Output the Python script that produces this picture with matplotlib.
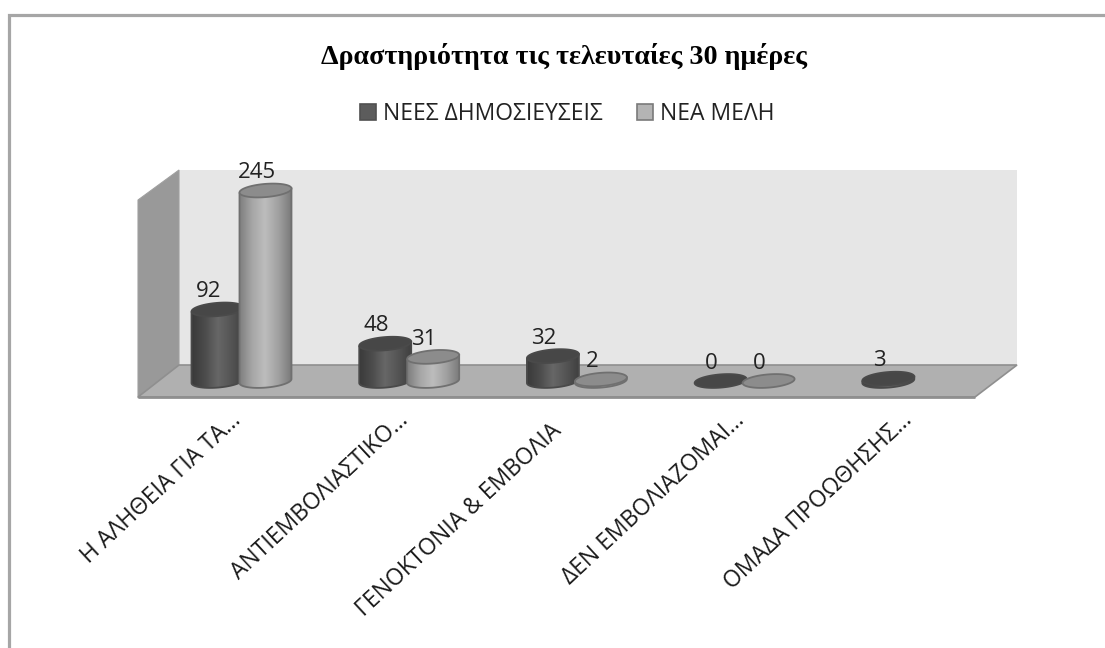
import numpy as np
import matplotlib
matplotlib.use('Agg')
import matplotlib.pyplot as plt
from matplotlib.colors import LinearSegmentedColormap
from matplotlib.patches import Patch, PathPatch, Polygon
from matplotlib.path import Path
from matplotlib.transforms import ScaledTranslation

# Data
categories = ['Η ΑΛΗΘΕΙΑ ΓΙΑ ΤΑ...', 'ΑΝΤΙΕΜΒΟΛΙΑΣΤΙΚΟ...', 'ΓΕΝΟΚΤΟΝΙΑ & ΕΜΒΟΛΙΑ',
              'ΔΕΝ ΕΜΒΟΛΙΑΖΟΜΑΙ...', 'ΟΜΑΔΑ ΠΡΟΩΘΗΣΗΣ...']
new_posts = [92, 48, 32, 0, 3]
new_members = [245, 31, 2, 0, None]
series_names = ['ΝΕΕΣ ΔΗΜΟΣΙΕΥΣΕΙΣ', 'ΝΕΑ ΜΕΛΗ']
title = 'Δραστηριότητα τις τελευταίες 30 ημέρες'

W, H = 1105, 648
UI_FONT = ['Open Sans', 'DejaVu Sans']

dark_cmap = LinearSegmentedColormap.from_list('dark', ['#3a3a3a', '#4c4c4c', '#676767', '#555555', '#404040'])
light_cmap = LinearSegmentedColormap.from_list('light', ['#7d7d7d', '#a6a6a6', '#bdbdbd', '#a2a2a2', '#7c7c7c'])

BAR_W = 0.31    # in category units
CAP_H = 17      # in value units
TILT = 2.6      # rise of the ellipse at its right end, in value units
OFFSET = 0.143  # bar centre from group centre


def rim(x, y, t):
    # slightly tilted ellipse, parametrised so the body can reuse its lower half
    return (x + BAR_W / 2 * np.cos(t),
            y + CAP_H / 2 * np.sin(t) + TILT * np.cos(t))


def draw_cylinder(ax, x, value, cmap, edge, top_color, zorder):
    if value is None:
        return
    left, right = x - BAR_W / 2, x + BAR_W / 2
    if value > 0:
        # body: straight sides plus the rounded lower edge
        arc_x, arc_y = rim(x, 0, np.linspace(np.pi, 2 * np.pi, 40))
        px = np.concatenate([[left], arc_x, [right, left]])
        py = np.concatenate([[value - TILT], arc_y, [value + TILT, value - TILT]])
        body = PathPatch(Path(np.column_stack([px, py])), facecolor='none',
                         edgecolor=edge, lw=1.3, zorder=zorder + 0.2)
        ax.add_patch(body)
        grad = np.linspace(0, 1, 128).reshape(1, -1)
        im = ax.imshow(grad, extent=[left, right, -CAP_H, value + TILT], aspect='auto',
                       cmap=cmap, zorder=zorder + 0.1, origin='lower')
        im.set_clip_path(body)
    cap_x, cap_y = rim(x, value, np.linspace(0, 2 * np.pi, 80))
    ax.add_patch(Polygon(np.column_stack([cap_x, cap_y]), closed=True, facecolor=top_color,
                         edgecolor=edge, lw=1.3, zorder=zorder + 0.3))


fig = plt.figure(figsize=(W / 100, H / 100), dpi=100, facecolor='white')

# Frame, walls and floor live on a full-figure backdrop
bg = fig.add_axes([0, 0, 1, 1])
bg.set_xlim(0, W)
bg.set_ylim(H, 0)
bg.axis('off')
bg.plot([8.5, 8.5, W], [H, 14.5, 14.5], color='#a6a6a6', lw=2.3, solid_joinstyle='miter')
bg.add_patch(Polygon([(179, 170), (1017, 170), (1017, 365), (179, 365)], facecolor='#e6e6e6', edgecolor='none'))
bg.add_patch(Polygon([(138, 200), (179, 170), (179, 365), (138, 398)], facecolor='#999999', edgecolor='#a0a0a0', lw=0.8))
bg.add_patch(Polygon([(179, 365), (1017, 365), (975, 397), (138, 397)], facecolor='#b0b0b0', edgecolor='#8f8f8f', lw=1.2))
bg.plot([138, 975], [397, 397], color='#8f8f8f', lw=2.0, solid_capstyle='butt')

# Value axes: category index across, counts upward
px_per_group = 167.7
ax_left = 241.5 - px_per_group / 2
px_per_unit = 190.5 / 245
y_min, y_max = -30, 280
ax_bottom = 381 + (-y_min) * px_per_unit
ax_height = (y_max - y_min) * px_per_unit
ax = fig.add_axes([ax_left / W, (H - ax_bottom) / H, 5 * px_per_group / W, ax_height / H])
ax.patch.set_alpha(0)

for i in range(len(categories)):
    draw_cylinder(ax, i - OFFSET, new_posts[i], dark_cmap, '#4a4a4a', '#474747', 3 + i)
    draw_cylinder(ax, i + OFFSET, new_members[i], light_cmap, '#707070', '#8c8c8c', 3.5 + i)

    for x, v in [(i - OFFSET, new_posts[i]), (i + OFFSET, new_members[i])]:
        if v is None:
            continue
        ax.annotate(str(v), (x, v), xytext=(-6.5, 12.8), textcoords='offset points',
                    ha='center', va='center', fontsize=16, color='#222222',
                    family=UI_FONT, zorder=20)

ax.set_xlim(-0.5, 4.5)
ax.set_ylim(y_min, y_max)
ax.set_yticks([])
ax.set_xticks(range(len(categories)))
ax.set_xticklabels(categories, rotation=43, ha='right', rotation_mode='anchor',
                   fontsize=16.5, family=UI_FONT, color='#1a1a1a')
ax.tick_params(axis='x', length=0, pad=3)
for i, label in enumerate(ax.get_xticklabels()):
    # the one label without an ellipsis sits further down and to the left
    dx, dy = (-27, -10) if i == 2 else (-12, 0)
    label.set_transform(label.get_transform() + ScaledTranslation(dx / 100, dy / 100, fig.dpi_scale_trans))
for s in ax.spines.values():
    s.set_visible(False)

fig.text(564 / W, 1 - 56 / H, title, ha='center', va='center', fontsize=20.2,
         fontweight='bold', family=['Liberation Serif', 'DejaVu Serif'], color='black')

handles = [Patch(facecolor='#5c5c5c', edgecolor='#505050', lw=1.2),
           Patch(facecolor='#b4b4b4', edgecolor='#7a7a7a', lw=1.2)]
fig.legend(handles, series_names, loc='center', bbox_to_anchor=(567 / W, 1 - 114 / H), ncol=2,
           frameon=False, handlelength=0.7, handleheight=0.7, handletextpad=0.3,
           columnspacing=1.5, prop={'family': UI_FONT, 'size': 16.5}, labelcolor='#222222')

plt.savefig('out.png', dpi=100)
plt.close()
